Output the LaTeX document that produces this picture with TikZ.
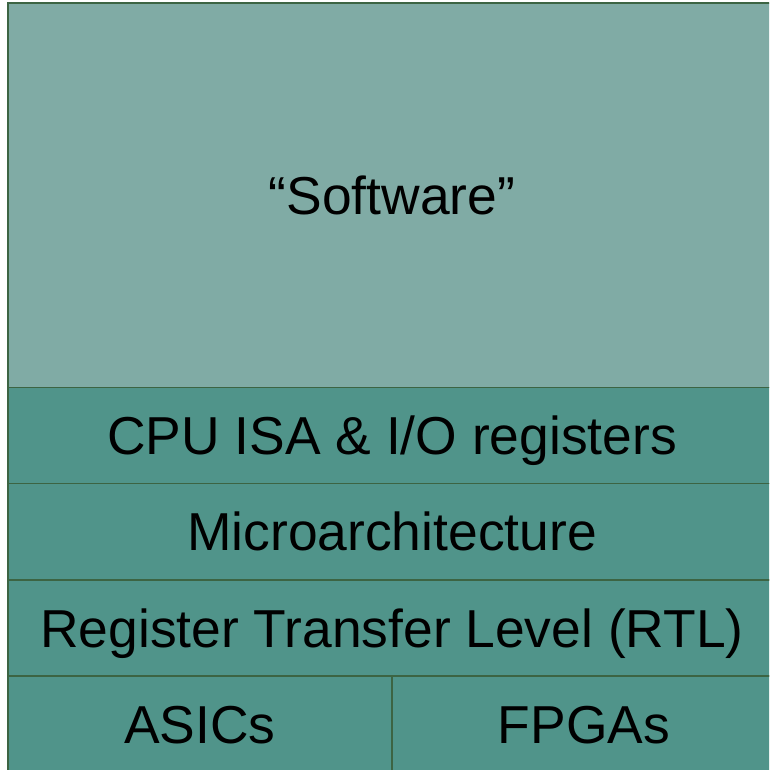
\documentclass[tikz,border=0pt]{standalone}
\usepackage{fontspec}
\setmainfont{Liberation Sans}
\definecolor{stackdark}{RGB}{80, 148, 138}
\definecolor{stacklight}{RGB}{128, 171, 165}
\definecolor{stackline}{RGB}{60, 100, 67}
\usetikzlibrary{positioning}

\begin{document}
\begin{tikzpicture}[x=1pt, y=1pt,
    layer/.style={draw=stackline, line width=1.5pt, fill=stackdark, outer sep=0pt,
      inner sep=0pt, minimum width=768pt, minimum height=96.2pt,
      text height=38.2pt, text depth=0pt,
      font=\fontsize{53.4}{60}\selectfont}]
  \useasboundingbox (0,0) rectangle (769,-770);
  \clip (0,0) rectangle (769,-770);

  % Top of the stack
  \node (software) [layer, fill=stacklight, minimum height=384.5pt, anchor=north west]
    at (8,-3) {``Software''};

  % Hardware layers
  \node (isa) [layer, below=0pt of software] {CPU ISA \& I/O registers};
  \node (uarch) [layer, below=0pt of isa] {Microarchitecture};
  \node (rtl) [layer, below=0pt of uarch] {Register Transfer Level (RTL)};

  % Implementation targets
  \node (asics) [layer, minimum width=384pt, below=0pt of rtl.south west, anchor=north west] {ASICs};
  \node (fpgas) [layer, minimum width=384pt, right=0pt of asics] {FPGAs};

\end{tikzpicture}
\end{document}
